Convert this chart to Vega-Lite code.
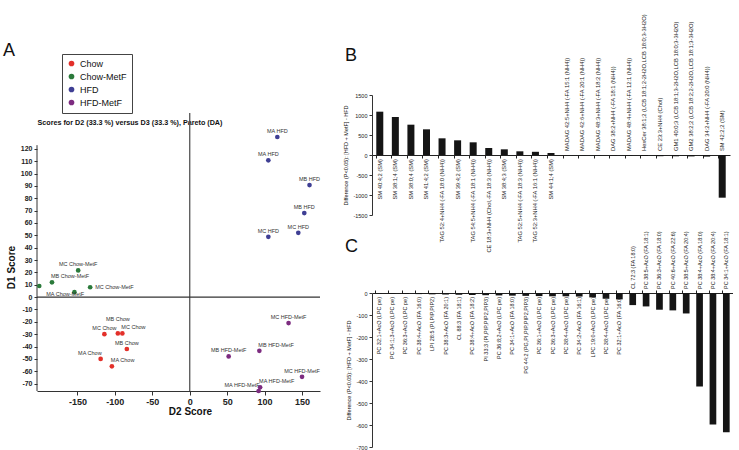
{
  "$schema": "https://vega.github.io/schema/vega-lite/v6.json",
  "background": "white",
  "padding": {"left": 3, "top": 14, "right": 0, "bottom": 0},
  "config": {
    "font": "Liberation Sans",
    "view": {"stroke": null},
    "axis": {"grid": false, "domainColor": "#333", "tickColor": "#333", "labelColor": "#222", "titleColor": "#111", "labelOverlap": false}
  },
  "bounds": "flush",
  "spacing": 52,
  "hconcat": [
    {
      "width": 283,
      "height": 296,
      "title": {"text": "A", "anchor": "start", "frame": "group", "dx": -34, "offset": 21, "fontSize": 18, "fontWeight": "normal", "baseline": "alphabetic", "color": "#111"},
      "data": {"values": [
        {"id": "p1", "group": "Chow-MetF", "label": "MA Chow-MetF", "x": -201, "y": 9},
        {"id": "p2", "group": "Chow-MetF", "label": "MB Chow-MetF", "x": -184, "y": 12},
        {"id": "p3", "group": "Chow-MetF", "label": "MC Chow-MetF", "x": -149, "y": 21.6},
        {"id": "p4", "group": "Chow-MetF", "label": "", "x": -154, "y": 4},
        {"id": "p5", "group": "Chow-MetF", "label": "MC Chow-MetF", "x": -133, "y": 8},
        {"id": "c1", "group": "Chow", "label": "MB Chow", "x": -96, "y": -29.4},
        {"id": "c2", "group": "Chow", "label": "MC Chow", "x": -114, "y": -30},
        {"id": "c3", "group": "Chow", "label": "MC Chow", "x": -90, "y": -29.4},
        {"id": "c4", "group": "Chow", "label": "MB Chow", "x": -84, "y": -42},
        {"id": "c5", "group": "Chow", "label": "MA Chow", "x": -119, "y": -50},
        {"id": "c6", "group": "Chow", "label": "MA Chow", "x": -104, "y": -56},
        {"id": "h1", "group": "HFD", "label": "MA HFD", "x": 117, "y": 129.6},
        {"id": "h2", "group": "HFD", "label": "MA HFD", "x": 105, "y": 110.7},
        {"id": "h3", "group": "HFD", "label": "MB HFD", "x": 160, "y": 90.7},
        {"id": "h4", "group": "HFD", "label": "MB HFD", "x": 153, "y": 68},
        {"id": "h5", "group": "HFD", "label": "MC HFD", "x": 145, "y": 52},
        {"id": "h6", "group": "HFD", "label": "MC HFD", "x": 105, "y": 48.8},
        {"id": "m1", "group": "HFD-MetF", "label": "MC HFD-MetF", "x": 132, "y": -21},
        {"id": "m2", "group": "HFD-MetF", "label": "MB HFD-MetF", "x": 93, "y": -43.5},
        {"id": "m3", "group": "HFD-MetF", "label": "MB HFD-MetF", "x": 52, "y": -48},
        {"id": "m4", "group": "HFD-MetF", "label": "MC HFD-MetF", "x": 150, "y": -64.5},
        {"id": "m5", "group": "HFD-MetF", "label": "MA HFD-MetF", "x": 94, "y": -73},
        {"id": "m6", "group": "HFD-MetF", "label": "MA HFD-MetF", "x": 92, "y": -76}
      ]},
      "resolve": {"axis": {"x": "independent"}},
      "layer": [
        {
          "data": {"values": [{}]},
          "mark": {"type": "rule", "color": "#555", "strokeWidth": 1.3},
          "encoding": {
            "x": {"datum": 0, "type": "quantitative", "axis": {"orient": "top", "title": "Scores for D2 (33.3 %) versus D3 (33.3 %), Pareto (DA)", "labels": false, "ticks": false, "domain": false, "titleAnchor": "start", "titleAlign": "left", "titleX": 0, "titleY": 29, "titleFontSize": 7.2, "titleFontWeight": "bold", "titleBaseline": "alphabetic", "titleAngle": 0}},
            "y": {"datum": -76, "type": "quantitative"},
            "y2": {"datum": 149}
          }
        },
        {
          "data": {"values": [{}]},
          "mark": {"type": "rule", "color": "#333", "strokeWidth": 1.1},
          "encoding": {"y": {"datum": 0, "type": "quantitative"}}
        },
        {
          "data": {"values": [{}]},
          "mark": {"type": "rule", "color": "#333", "strokeWidth": 1},
          "encoding": {
            "x": {"datum": -204, "type": "quantitative", "axis": null},
            "y": {"datum": -76, "type": "quantitative"},
            "y2": {"datum": 123}
          }
        },
        {
          "mark": {"type": "circle", "size": 22, "opacity": 1},
          "encoding": {
            "x": {"field": "x", "type": "quantitative", "scale": {"domain": [-204, 174], "nice": false, "zero": false},
              "axis": {"orient": "bottom", "values": [-150, -100, -50, 0, 50, 100, 150], "tickCount": 40, "title": "D2 Score", "titleFontSize": 10, "titleFontWeight": "bold", "titleX": 153, "titleY": 15, "titleBaseline": "top", "labelFontSize": 9, "labelFontWeight": "bold", "tickSize": 4, "labelPadding": 2, "labelExpr": "replace(datum.label, '\u2212', '-')"}},
            "y": {"field": "y", "type": "quantitative", "scale": {"domain": [-76, 163.6], "nice": false, "zero": false},
              "axis": {"values": [-70, -60, -50, -40, -30, -20, -10, 0, 10, 20, 30, 40, 50, 60, 70, 80, 90, 100, 110, 120], "tickCount": 40, "domain": false, "title": "D1 Score", "titleFontSize": 10, "titleFontWeight": "bold", "titleX": -26, "titleY": 172, "titleBaseline": "middle", "labelFontSize": 7, "labelFontWeight": "bold", "tickSize": 3, "labelPadding": 2, "labelExpr": "replace(datum.label, '\u2212', '-')"}},
            "color": {"field": "group", "type": "nominal",
              "scale": {"domain": ["Chow", "Chow-MetF", "HFD", "HFD-MetF"], "range": ["#e3302a", "#2b7a3b", "#3f3f94", "#7d2c80"]},
              "legend": {"orient": "none", "legendX": 25, "legendY": -41, "title": null, "strokeColor": "#444", "fillColor": "white", "padding": 5, "labelFontSize": 9, "labelColor": "#111", "symbolSize": 32, "symbolType": "circle", "symbolStrokeWidth": 0, "rowPadding": 3, "labelOffset": 4}}
          }
        },
        {
          "transform": [{"filter": "indexof(['c1','c3','c5','c6','m2','m5','m6','p1','p2','p5'], datum.id) < 0"}],
          "mark": {"type": "text", "fontSize": 5.5, "color": "#333", "align": "center", "baseline": "bottom", "dy": -3},
          "encoding": {"x": {"field": "x", "type": "quantitative", "axis": null}, "y": {"field": "y", "type": "quantitative"}, "text": {"field": "label"}}
        },
        {
          "transform": [{"filter": "datum.id == 'c1'"}],
          "mark": {"type": "text", "fontSize": 5.5, "color": "#333", "align": "center", "baseline": "bottom", "dy": -11},
          "encoding": {"x": {"field": "x", "type": "quantitative", "axis": null}, "y": {"field": "y", "type": "quantitative"}, "text": {"field": "label"}}
        },
        {
          "transform": [{"filter": "indexof(['c3','c6','m2','m5','p2'], datum.id) >= 0"}],
          "mark": {"type": "text", "fontSize": 5.5, "color": "#333", "align": "left", "baseline": "bottom", "dx": -1, "dy": -3},
          "encoding": {"x": {"field": "x", "type": "quantitative", "axis": null}, "y": {"field": "y", "type": "quantitative"}, "text": {"field": "label"}}
        },
        {
          "transform": [{"filter": "indexof(['c5','m6'], datum.id) >= 0"}],
          "mark": {"type": "text", "fontSize": 5.5, "color": "#333", "align": "right", "baseline": "bottom", "dx": 1, "dy": -3},
          "encoding": {"x": {"field": "x", "type": "quantitative", "axis": null}, "y": {"field": "y", "type": "quantitative"}, "text": {"field": "label"}}
        },
        {
          "transform": [{"filter": "datum.id == 'p5'"}],
          "mark": {"type": "text", "fontSize": 5.5, "color": "#333", "align": "left", "baseline": "middle", "dx": 5},
          "encoding": {"x": {"field": "x", "type": "quantitative", "axis": null}, "y": {"field": "y", "type": "quantitative"}, "text": {"field": "label"}}
        },
        {
          "transform": [{"filter": "datum.id == 'p1'"}],
          "mark": {"type": "text", "fontSize": 5.5, "color": "#333", "align": "left", "baseline": "top", "dx": 7, "dy": 6},
          "encoding": {"x": {"field": "x", "type": "quantitative", "axis": null}, "y": {"field": "y", "type": "quantitative"}, "text": {"field": "label"}}
        }
      ]
    },
    {
      "bounds": "flush",
      "spacing": 78,
      "vconcat": [
        {
          "width": 358,
          "height": 120,
          "title": {"text": "B", "anchor": "start", "frame": "group", "dx": -27, "offset": -65, "fontSize": 18, "fontWeight": "normal", "baseline": "alphabetic", "color": "#111"},
          "data": {"values": [
            {"id": "b01", "label": "SM 40:4;2 (SM)", "value": 1083},
            {"id": "b02", "label": "SM 38:1;4 (SM)", "value": 950},
            {"id": "b03", "label": "SM 38:0;4 (SM)", "value": 758},
            {"id": "b04", "label": "SM 41:4;2 (SM)", "value": 642},
            {"id": "b05", "label": "TAG 52:4+NH4 (-FA 18:0 (NH4))", "value": 417},
            {"id": "b06", "label": "SM 39:4;2 (SM)", "value": 367},
            {"id": "b07", "label": "TAG 54:5+NH4 (-FA 18:1 (NH4))", "value": 317},
            {"id": "b08", "label": "CE 18:3+NH4 (Chol,-FA 18:3 (NH4))", "value": 175},
            {"id": "b09", "label": "SM 38:4;3 (SM)", "value": 142},
            {"id": "b10", "label": "TAG 52:5+NH4 (-FA 18:3 (NH4))", "value": 92},
            {"id": "b11", "label": "TAG 52:3+NH4 (-FA 16:1 (NH4))", "value": 80},
            {"id": "b12", "label": "SM 44:1;4 (SM)", "value": 50},
            {"id": "b13", "label": "MADAG 42:5+NH4 (-FA 15:1 (NH4))", "value": -5},
            {"id": "b14", "label": "MADAG 42:6+NH4 (-FA 20:1 (NH4))", "value": -6},
            {"id": "b15", "label": "MADAG 48:3+NH4 (-FA 18:2 (NH4))", "value": -8},
            {"id": "b16", "label": "DAG 38:2+NH4 (-FA 18:1 (NH4))", "value": -10},
            {"id": "b17", "label": "MADAG 48:4+NH4 (-FA 12:1 (NH4))", "value": -12},
            {"id": "b18", "label": "HexCer 38:1;2 (LCB 18:1;2-2H2O,LCB 18:0;3-3H2O)", "value": -25},
            {"id": "b19", "label": "CE 23:3+NH4 (Chol)", "value": -30},
            {"id": "b20", "label": "GM1 40:0;3 (LCB 18:1;3-2H2O,LCB 18:0;3-3H2O)", "value": -32},
            {"id": "b21", "label": "GM2 38:2;2 (LCB 18:2;2-2H2O,LCB 18:1;3-3H2O)", "value": -35},
            {"id": "b22", "label": "DAG 34:2+NH4 (-FA 20:0 (NH4))", "value": -40},
            {"id": "b23", "label": "SM 42:2;2 (SM)", "value": -1067}
          ]},
          "layer": [
            {
              "mark": {"type": "bar", "color": "#151515"},
              "encoding": {
                "x": {"field": "id", "type": "ordinal", "scale": {"paddingInner": 0.55, "paddingOuter": 0.275},
                  "axis": {"orient": "bottom", "offset": -60, "labels": false, "title": null, "tickSize": 3, "bandPosition": 0, "domainColor": "#222", "tickColor": "#222"}},
                "y": {"field": "value", "type": "quantitative", "scale": {"domain": [-1500, 1500], "nice": false},
                  "axis": {"values": [-1500, -1000, -500, 0, 500, 1000, 1500], "tickCount": 40, "format": "d", "labelExpr": "replace(datum.label, '\u2212', '-')", "labelFontSize": 5.5, "tickSize": 3, "labelPadding": 2, "title": "Difference (P<0.05): [HFD + MetF] - HFD", "titleFontSize": 5.5, "titleFontWeight": "normal", "titlePadding": 4}}
              }
            },
            {
              "transform": [{"filter": "datum.value >= 0"}],
              "mark": {"type": "text", "angle": 270, "align": "right", "baseline": "middle", "dx": -4, "fontSize": 5.8, "color": "#222"},
              "encoding": {"x": {"field": "id", "type": "ordinal"}, "y": {"datum": 0, "type": "quantitative"}, "text": {"field": "label"}}
            },
            {
              "transform": [{"filter": "datum.value < 0"}],
              "mark": {"type": "text", "angle": 270, "align": "left", "baseline": "middle", "dx": 4, "fontSize": 5.8, "color": "#222", "limit": 145, "ellipsis": ""},
              "encoding": {"x": {"field": "id", "type": "ordinal"}, "y": {"datum": 0, "type": "quantitative"}, "text": {"field": "label"}}
            }
          ]
        },
        {
          "width": 361,
          "height": 154,
          "title": {"text": "C", "anchor": "start", "frame": "group", "dx": -27, "offset": -39, "fontSize": 18, "fontWeight": "normal", "baseline": "alphabetic", "color": "#111"},
          "data": {"values": [
            {"id": "c01", "label": "PC 32:1+AcO (LPC pe)", "value": -2},
            {"id": "c02", "label": "PC 34:1;3+AcO (LPC pe)", "value": -3},
            {"id": "c03", "label": "PC 36:3+AcO (LPC pe)", "value": -4},
            {"id": "c04", "label": "PC 38:4+AcO (FA 16:0)", "value": -5},
            {"id": "c05", "label": "LPI 28:5 (PI,PIP,PIP2)", "value": -6},
            {"id": "c06", "label": "PC 38:3+AcO (FA 20:1)", "value": -7},
            {"id": "c07", "label": "CL 88:3 (FA 18:1)", "value": -8},
            {"id": "c08", "label": "PC 38:4+AcO (FA 18:2)", "value": -9},
            {"id": "c09", "label": "PI 33:3 (PI,PIP,PIP2,PIP3)", "value": -10},
            {"id": "c10", "label": "PC 36:8;2+AcO (LPC pe)", "value": -11},
            {"id": "c11", "label": "PC 34:1+AcO (FA 18:0)", "value": -12},
            {"id": "c12", "label": "PG 44:2 (PG,PI,PIP,PIP2,PIP3)", "value": -13},
            {"id": "c13", "label": "PC 36:1+AcO (LPC pe)", "value": -14},
            {"id": "c14", "label": "PC 36:3+AcO (LPC pe)", "value": -15},
            {"id": "c15", "label": "PC 38:4+AcO (LPC pe)", "value": -15},
            {"id": "c16", "label": "PC 34:2+AcO (FA 16:1)", "value": -16},
            {"id": "c17", "label": "LPC 19:0+AcO (LPC pe)", "value": -20},
            {"id": "c18", "label": "PC 38:4+AcO (LPC pe)", "value": -26},
            {"id": "c19", "label": "PC 32:1+AcO (FA 16:0)", "value": -29},
            {"id": "c20", "label": "CL 72:3 (FA 18:0)", "value": -55},
            {"id": "c21", "label": "PC 38:5+AcO (FA 18:1)", "value": -61},
            {"id": "c22", "label": "PC 36:3+AcO (FA 18:0)", "value": -76},
            {"id": "c23", "label": "PC 40:6+AcO (FA 22:6)", "value": -79},
            {"id": "c24", "label": "PC 38:5+AcO (FA 20:4)", "value": -93},
            {"id": "c25", "label": "PC 38:4+AcO (FA 18:0)", "value": -425},
            {"id": "c26", "label": "PC 38:4+AcO (FA 20:4)", "value": -598},
            {"id": "c27", "label": "PC 34:1+AcO (FA 18:1)", "value": -633}
          ]},
          "layer": [
            {
              "mark": {"type": "bar", "color": "#151515"},
              "encoding": {
                "x": {"field": "id", "type": "ordinal", "scale": {"paddingInner": 0.5, "paddingOuter": 0.25},
                  "axis": {"orient": "top", "labels": false, "title": null, "tickSize": 3, "bandPosition": 0, "domainColor": "#222", "tickColor": "#222"}},
                "y": {"field": "value", "type": "quantitative", "scale": {"domain": [-700, 0], "nice": false},
                  "axis": {"values": [-700, -600, -500, -400, -300, -200, -100, 0], "tickCount": 40, "format": "d", "labelExpr": "replace(datum.label, '\u2212', '-')", "labelFontSize": 5.5, "tickSize": 3, "labelPadding": 2, "title": "Difference (P<0.05): [HFD + MetF] - HFD", "titleFontSize": 5.5, "titleFontWeight": "normal", "titlePadding": 4}}
              }
            },
            {
              "transform": [{"filter": "datum.value > -40"}],
              "mark": {"type": "text", "angle": 270, "align": "right", "baseline": "middle", "dx": -4, "fontSize": 5.5, "color": "#222"},
              "encoding": {"x": {"field": "id", "type": "ordinal"}, "y": {"datum": 0, "type": "quantitative"}, "text": {"field": "label"}}
            },
            {
              "transform": [{"filter": "datum.value <= -40"}],
              "mark": {"type": "text", "angle": 270, "align": "left", "baseline": "middle", "dx": 4, "fontSize": 5.5, "color": "#222"},
              "encoding": {"x": {"field": "id", "type": "ordinal"}, "y": {"datum": 0, "type": "quantitative"}, "text": {"field": "label"}}
            }
          ]
        }
      ]
    }
  ]
}
